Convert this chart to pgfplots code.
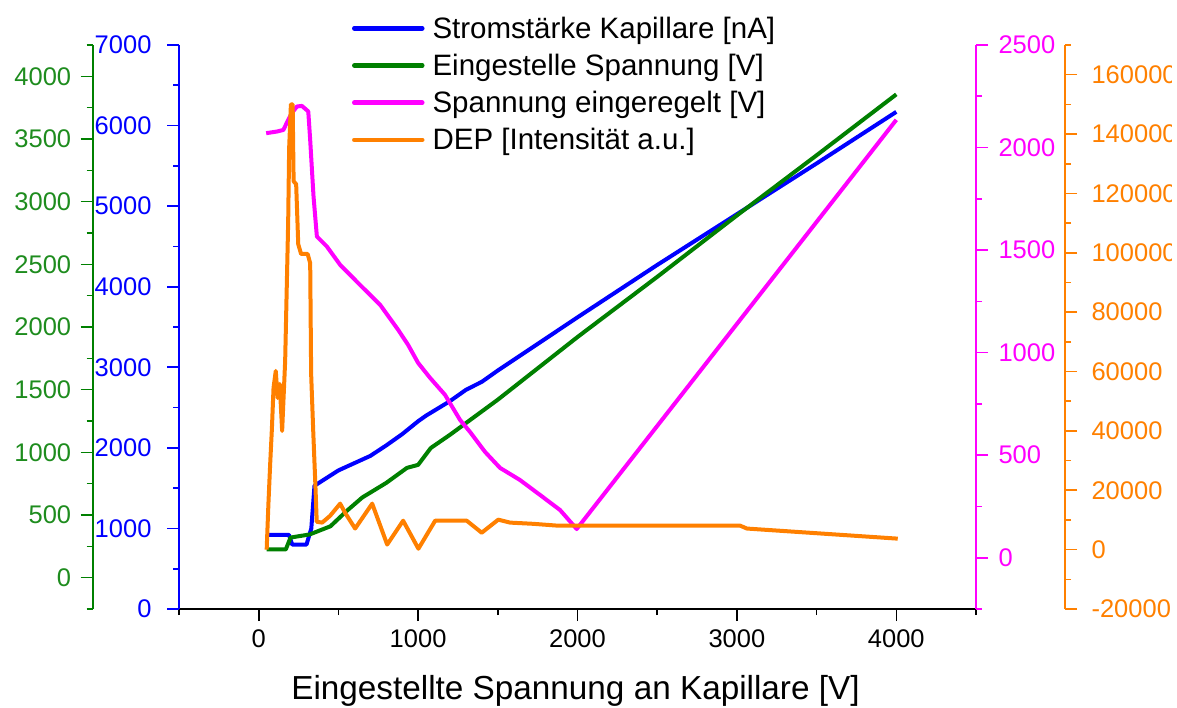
\documentclass[border=0pt]{standalone}
\usepackage{pgfplots}
\pgfplotsset{compat=1.18}
\usepackage{fontspec}
\setmainfont{Liberation Sans}

\definecolor{cBlue}{RGB}{0,0,255}
\definecolor{cGreen}{RGB}{0,128,0}
\definecolor{cGreenTxt}{RGB}{30,140,30}
\definecolor{cMag}{RGB}{255,0,255}
\definecolor{cOra}{RGB}{255,128,0}

\pgfplotsset{
  base/.style={
    scale only axis, width=797pt, height=564pt,
    at={(179pt,98pt)}, anchor=south west,
    xmin=-500, xmax=4500,
    tick align=outside,
    major tick length=12pt, minor tick length=6pt,
    /pgf/number format/assume math mode=true,
    /pgf/number format/fixed, /pgf/number format/1000 sep={},
    scaled ticks=false,
    tick label style={font=\fontsize{25.5pt}{30pt}\selectfont},
    every tick/.append style={line width=1.6pt},
    axis line style={line width=1.8pt, -},
  },
  secondary/.style={base, axis x line=none},
  data/.style={line width=4pt, line join=round},
}

\begin{document}
\begin{tikzpicture}
\begin{scope}
\clip (0pt,0pt) rectangle (1171pt,707pt);

% current through the capillary
\begin{axis}[base,
  axis x line*=bottom, axis y line*=left,
  x axis line style={black},
  xtick={0,1000,2000,3000,4000},
  minor xtick={-500,500,1500,2500,3500,4500},
  xtick style={black},
  xticklabel style={black, yshift=-5pt},
  xlabel={Eingestellte Spannung an Kapillare [V]},
  xlabel style={font=\fontsize{33.3pt}{38pt}\selectfont, at={(axis description cs:0.4975,-0.1613)}, anchor=base},
  ymin=0, ymax=7000, ytick={0,1000,...,7000}, minor ytick={500,1500,...,6500},
  y axis line style={cBlue}, ytick style={cBlue}, yticklabel style={cBlue, xshift=-12pt},
]
\addplot[cBlue, data] coordinates {
  (50,920) (190,920) (210,800) (300,800) (330,1000) (350,1530)
  (500,1720) (600,1810) (700,1900) (800,2030) (900,2170) (950,2250)
  (1000,2330) (1050,2400) (1100,2460) (1200,2580) (1300,2720)
  (1400,2820) (1500,2960)
  (2000,3620) (2500,4270) (3000,4900) (3500,5530) (4000,6170)
};
\end{axis}

% set voltage
\begin{axis}[secondary,
  axis y line*=left,
  ymin=-250, ymax=4250, ytick={0,500,...,4000}, minor ytick={-250,250,...,4250},
  y axis line style={cGreen, xshift=-86.3pt}, ytick style={cGreen, xshift=-86.3pt},
  yticklabel style={cGreenTxt, xshift=-92.3pt},
]
\addplot[cGreen, data] coordinates {
  (50,225) (170,225) (200,320) (320,345) (450,410) (550,530) (650,640)
  (800,756) (930,876) (1000,900) (1080,1035) (1200,1140) (1500,1420)
  (2000,1920) (2500,2400) (3000,2890) (3500,3370) (4000,3856)
};
\end{axis}

% regulated voltage
\begin{axis}[secondary,
  axis y line*=right,
  ymin=-250, ymax=2500, ytick={0,500,...,2500}, minor ytick={-250,250,...,2250},
  y axis line style={cMag}, ytick style={cMag}, yticklabel style={cMag, xshift=7pt},
]
\addplot[cMag, data] coordinates {
  (47,2070) (114,2078) (155,2086) (185,2135) (208,2168) (240,2200)
  (271,2203) (311,2176) (323,2037) (334,1891) (344,1761) (365,1566)
  (428,1517) (511,1428) (636,1330) (762,1233) (875,1111) (937,1038)
  (1000,950) (1075,877) (1169,794) (1263,672) (1326,613) (1420,516)
  (1514,438) (1639,379) (1765,306) (1890,233) (1995,140) (4000,2135)
};
\end{axis}

% DEP intensity
\begin{axis}[secondary,
  axis y line*=right,
  ymin=-20000, ymax=170000, ytick={-20000,0,...,160000}, minor ytick={-10000,10000,...,170000},
  y axis line style={cOra, xshift=89pt}, ytick style={cOra, xshift=89pt},
  yticklabel style={cOra, xshift=100pt},
  legend cell align=left,
  legend image code/.code={\draw[#1, line width=4.5pt, line cap=round] (0pt,2pt) -- (68pt,2pt);},
  legend style={at={(axis description cs:0.2171,1.0544)}, anchor=north west,
    draw=none, fill=none, inner sep=0pt, outer sep=0pt,
    font=\fontsize{29.5pt}{34pt}\selectfont,
    nodes={inner sep=0pt, text height=24pt, text depth=8pt},
    row sep=5.2pt, column sep=8pt},
]
\addlegendimage{cBlue}
\addlegendimage{cGreen}
\addlegendimage{cMag}
\addplot[cOra, data] coordinates {
  (50,0) (61,15500) (72,28900) (83,41000) (93,54500) (107,60200)
  (119,51100) (132,55800) (147,40000) (166,63600) (185,110700)
  (191,135200) (202,150000) (213,150000) (219,124100) (235,123100)
  (248,102900) (266,99600) (307,99600) (323,96500) (329,59200)
  (342,40000) (357,19800) (364,9400) (398,9100) (448,11400)
  (511,15500) (542,12400) (605,7100) (712,15500) (806,1700)
  (906,9750) (1002,300) (1107,9750) (1305,9750) (1399,5700)
  (1503,10100) (1577,9100) (1721,8700) (1870,8100) (2016,8100)
  (3019,8100) (3063,7100) (4009,3700)
};
\legend{Stromstärke Kapillare [nA], Eingestelle Spannung [V],
        Spannung eingeregelt [V], DEP [Intensität a.u.]}
\end{axis}
\end{scope}
\pgfresetboundingbox
\path[use as bounding box] (0pt,0pt) rectangle (1177pt,707pt);
\end{tikzpicture}
\end{document}
